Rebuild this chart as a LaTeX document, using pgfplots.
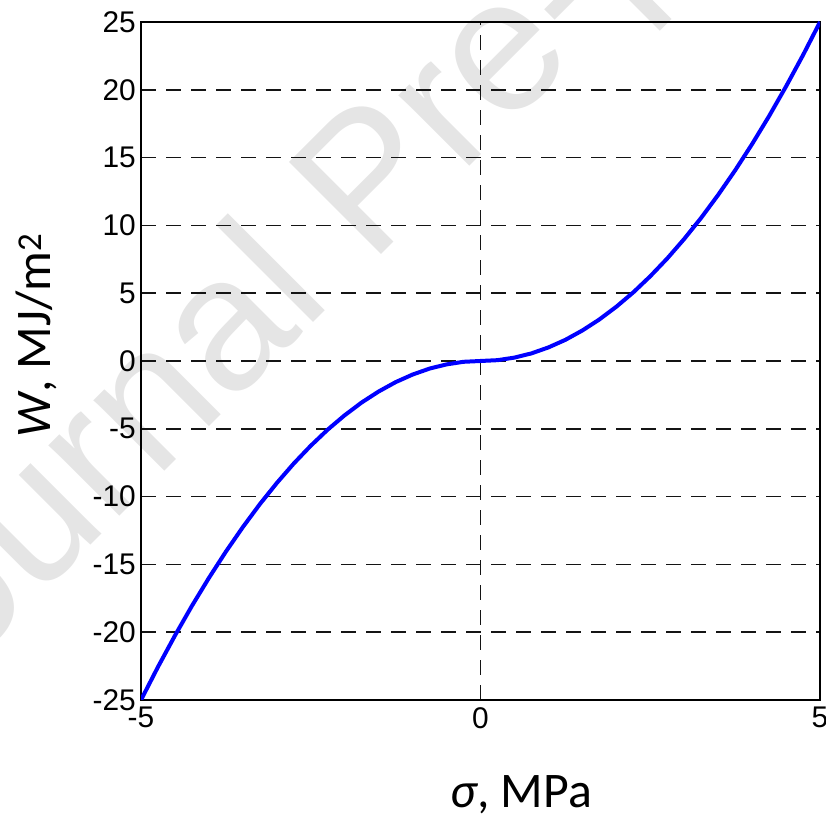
\documentclass[border=0pt]{standalone}
\usepackage{fontspec}
\setmainfont{Liberation Sans}
\newfontfamily\labfont{Carlito}
\usepackage{pgfplots}
\pgfplotsset{compat=1.18}
\begin{document}
\begin{tikzpicture}[x=1bp,y=1bp]
\useasboundingbox (0,0) rectangle (826,820);
\node[rotate=45, anchor=base, inner sep=0pt, text=black!10, font=\fontsize{190}{190}\selectfont] at (412,596) {Journal Pre-proof};
\begin{axis}[
  at={(141bp,120bp)}, anchor=south west,
  scale only axis, width=679bp, height=678bp,
  xmin=-5, xmax=5, ymin=-25, ymax=25,
  xtick={-5,0,5}, xticklabels={-5,0,5},
  ytick={-25,-20,-15,-10,-5,0,5,10,15,20,25},
  yticklabels={-25,-20,-15,-10,-5,0,5,10,15,20,25},
  major tick length=0pt,
  xmajorgrids, ymajorgrids,
  major grid style={dash pattern=on 15bp off 10bp, black!92, line width=1.6bp},
  axis line style={black, line width=1.4bp},
  tick label style={font=\fontsize{30}{30}\selectfont},
  xticklabel style={inner sep=0pt, anchor=north, yshift=-7bp},
  yticklabel style={inner sep=0pt, anchor=east, xshift=-5bp},
  every axis x label/.style={at={(axis description cs:0.56,-0.158)}, anchor=base, font=\labfont\fontsize{50}{50}\selectfont},
  every axis y label/.style={at={(axis description cs:-0.134,0.538)}, anchor=base, rotate=90, font=\labfont\fontsize{50}{50}\selectfont},
  xlabel={\textit{σ}, MPa},
  ylabel={\textit{W}, MJ/m\textsuperscript{2}},
]
\addplot[blue, line width=4bp] coordinates {
(-5,-25) (-4.75,-22.56) (-4.5,-20.25) (-4.25,-18.06) (-4,-16) (-3.75,-14.06)
(-3.5,-12.25) (-3.25,-10.56) (-3,-9) (-2.75,-7.56) (-2.5,-6.25) (-2.25,-5.06)
(-2,-4) (-1.75,-3.06) (-1.5,-2.25) (-1.25,-1.56) (-1,-1) (-0.75,-0.56)
(-0.5,-0.25) (-0.25,-0.06) (0,0) (0.25,0.06) (0.5,0.25) (0.75,0.56) (1,1)
(1.25,1.56) (1.5,2.25) (1.75,3.06) (2,4) (2.25,5.06) (2.5,6.25) (2.75,7.56)
(3,9) (3.25,10.56) (3.5,12.25) (3.75,14.06) (4,16) (4.25,18.06) (4.5,20.25)
(4.75,22.56) (5,25)
};
\end{axis}
\end{tikzpicture}
\end{document}
